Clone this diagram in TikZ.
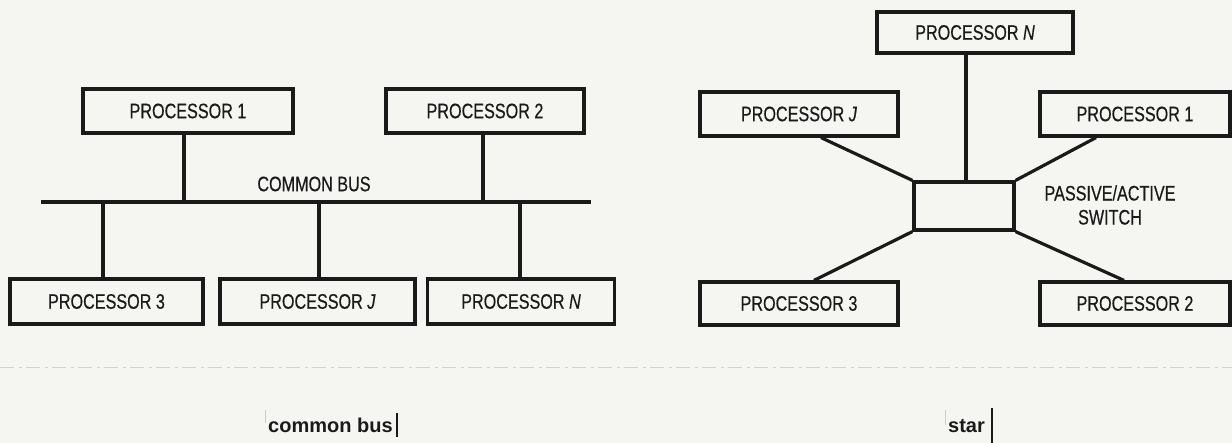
\documentclass[tikz,border=0pt]{standalone}
\usepackage{fontspec}
\setmainfont{Liberation Sans}
\newfontfamily\labfont[FakeStretch=0.77,FakeBold=0.5]{Liberation Sans}
\newfontfamily\capfont{Liberation Sans}
\definecolor{ink}{HTML}{1A1A1A}
\definecolor{paper}{HTML}{F5F5F2}
\tikzset{
  procbox/.style={draw=ink, line width=3.2pt, rectangle, inner sep=0pt,
    font=\labfont\fontsize{21}{24}\selectfont, text=ink},
  wire/.style={draw=ink, line width=3.2pt},
  lbl/.style={font=\labfont\fontsize{21}{24}\selectfont, text=ink, inner sep=0pt, align=center},
  captxt/.style={font=\capfont\bfseries\fontsize{20}{24}\selectfont, text=ink, inner sep=0pt},
  capbar/.style={draw=ink, line width=1.2pt},
  faintmark/.style={draw=gray!40, line width=0.8pt},
  scanline/.style={draw=gray!35, line width=0.7pt, dash pattern=on 14pt off 5pt on 3pt off 4pt}
}
\begin{document}
\begin{tikzpicture}[x=1pt,y=-1pt]
\fill[paper] (0,0) rectangle (1232,443);
\useasboundingbox (0,0) rectangle (1232,443);

% ---------- common bus ----------
\coordinate (busL) at (41,202);
\coordinate (busR) at (591,202);
\node[procbox, minimum width=210pt, minimum height=44pt] (bp1) at (188,111) {PROCESSOR 1};
\node[procbox, minimum width=198pt, minimum height=44pt] (bp2) at (485,111) {PROCESSOR 2};
\node[procbox, minimum width=193pt, minimum height=45pt] (bp3) at (106.5,301.5) {PROCESSOR 3};
\node[procbox, minimum width=195pt, minimum height=45pt] (bpj) at (317.5,301.5) {PROCESSOR \textit{J}};
\node[procbox, minimum width=187pt, minimum height=45pt] (bpn) at (521,301.5) {PROCESSOR \textit{N}};
\node[lbl] (buslbl) at (314,184) {COMMON BUS};
\draw[wire] (busL) -- (busR);
\draw[wire] ([xshift=-4pt]bp1.south) -- ([xshift=-4pt]bp1.south |- busL);
\draw[wire] ([xshift=-2pt]bp2.south) -- ([xshift=-2pt]bp2.south |- busL);
\draw[wire] ([xshift=-3.5pt]bp3.north) -- ([xshift=-3.5pt]bp3.north |- busL);
\draw[wire] ([xshift=1.5pt]bpj.north) -- ([xshift=1.5pt]bpj.north |- busL);
\draw[wire] ([xshift=-1pt]bpn.north) -- ([xshift=-1pt]bpn.north |- busL);

% ---------- star ----------
\node[procbox, minimum width=100pt, minimum height=48pt] (sw) at (964,206) {};
\node[procbox, minimum width=196pt, minimum height=41pt] (spn) at (975,32.5) {PROCESSOR \textit{N}};
\node[procbox, minimum width=198pt, minimum height=44pt] (spj) at (799,114) {PROCESSOR \textit{J}};
\node[procbox, minimum width=190pt, minimum height=44pt] (sp1) at (1135,114) {PROCESSOR 1};
\node[procbox, minimum width=198pt, minimum height=43pt] (sp3) at (799,303.5) {PROCESSOR 3};
\node[procbox, minimum width=190pt, minimum height=43pt] (sp2) at (1135,303.5) {PROCESSOR 2};
\node[lbl] (swlbl) at (1110,205) {PASSIVE/ACTIVE\\SWITCH};
\draw[wire] ([xshift=2pt]sw.north) -- ([xshift=2pt]sw.north |- spn.south);
\draw[wire] ([xshift=22pt]spj.south) -- (sw.north west);
\draw[wire] ([xshift=-39pt]sp1.south) -- (sw.north east);
\draw[wire] ([xshift=15pt]sp3.north) -- (sw.south west);
\draw[wire] ([xshift=-11pt]sp2.north) -- (sw.south east);

% ---------- scan line and captions ----------
\coordinate (scanL) at (0,367);
\coordinate (scanR) at (1232,367);
\draw[scanline] (scanL) -- (scanR);

\node[captxt, anchor=base west] (cap1) at (268,433) {common bus};
\coordinate (cap1a) at (397,413);
\coordinate (cap1b) at (397,437);
\draw[capbar] (cap1a) -- (cap1b);
\coordinate (cap1c) at (265,410);
\coordinate (cap1d) at (265,423);
\draw[faintmark] (cap1c) -- (cap1d);

\node[captxt, anchor=base west] (cap2) at (948,433) {star};
\coordinate (cap2a) at (992,408);
\coordinate (cap2b) at (992,443);
\draw[capbar] (cap2a) -- (cap2b);
\coordinate (cap2c) at (945,410);
\coordinate (cap2d) at (945,425);
\draw[faintmark] (cap2c) -- (cap2d);
\end{tikzpicture}
\end{document}
